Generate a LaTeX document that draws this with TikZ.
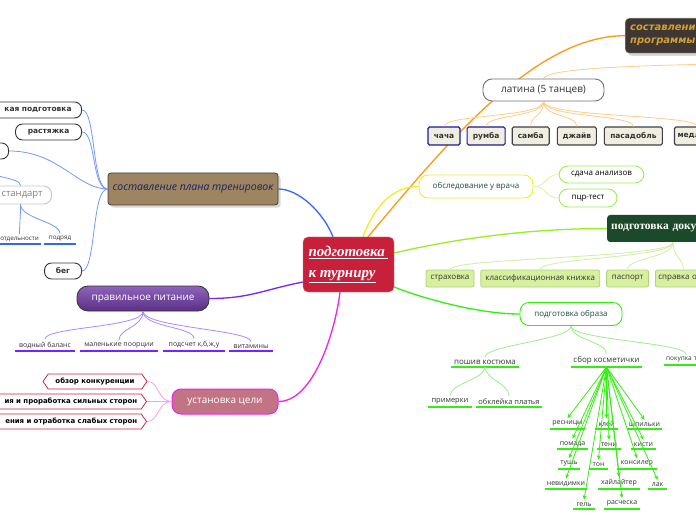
\documentclass[tikz,border=0pt]{standalone}
\usepackage{fontspec}
\setmainfont{Open Sans}
\newfontfamily\vfont{DejaVu Sans}
\newfontfamily\sfont{Liberation Serif}
\usetikzlibrary{arrows.meta,positioning,shapes.symbols,shadows,backgrounds}
\definecolor{rootred}{HTML}{C8203A}
\definecolor{planbrn}{HTML}{9D8561}
\definecolor{plantxt}{HTML}{1E1E66}
\definecolor{lblue}{HTML}{3366FF}
\definecolor{lbluet}{HTML}{7399FF}
\definecolor{lpurp}{HTML}{7722FF}
\definecolor{lpurpt}{HTML}{AA88FF}
\definecolor{lmag}{HTML}{EE22EE}
\definecolor{lmagt}{HTML}{FF99FF}
\definecolor{lorng}{HTML}{FF9A10}
\definecolor{lorngt}{HTML}{FFCC88}
\definecolor{lylw}{HTML}{EEEE22}
\definecolor{lylwt}{HTML}{EEEE99}
\definecolor{llime}{HTML}{99EE22}
\definecolor{llimet}{HTML}{CCF0A0}
\definecolor{lgrn}{HTML}{33EE11}
\definecolor{lgrnt}{HTML}{99F088}
\definecolor{lgrnb}{HTML}{99EE55}
\definecolor{pitA}{HTML}{8E63BA}
\definecolor{pitB}{HTML}{5B2F86}
\definecolor{celfill}{HTML}{C27484}
\definecolor{sigred}{HTML}{CC2244}
\definecolor{progbg}{HTML}{3E3734}
\definecolor{progtxt}{HTML}{D4A035}
\definecolor{tagfill}{HTML}{F0EEE0}
\definecolor{tagblue}{HTML}{1A1A99}
\definecolor{dokbg}{HTML}{1B4A2B}
\definecolor{dokfill}{HTML}{D7EFA0}
\definecolor{dokdraw}{HTML}{B2D478}
\definecolor{dgtxt}{HTML}{1D4D3D}
\tikzset{
  root/.style={fill=rootred, draw=rootred!60!white, rounded corners=5bp, text=white,
               font=\sfont\bfseries\itshape\fontsize{15}{21}\selectfont, align=left,
               minimum width=91bp, minimum height=55bp, inner sep=3bp},
  plan/.style={fill=planbrn, draw=black!75, line width=.8bp, rounded corners=3bp,
               text=plantxt, font=\itshape\fontsize{10.5}{12}\selectfont,
               minimum width=170bp, minimum height=32bp, drop shadow={opacity=.3}},
  bbox/.style={draw=black!80, fill=white, line width=.9bp, rounded corners=7bp,
               font=\vfont\bfseries\fontsize{7.5}{9}\selectfont, text=black!80,
               minimum height=16bp, inner xsep=10bp, inner ysep=2bp},
  gbox/.style={draw=black!22, fill=white, line width=.9bp, rounded corners=8bp, text=black!50,
               font=\fontsize{9.5}{11}\selectfont, minimum height=18bp, inner xsep=9bp},
  leaf/.style={font=\fontsize{7}{8}\selectfont, text=black!80, inner xsep=2bp, inner ysep=2.5bp,
               append after command={(\tikzlastnode.south west) edge[draw=#1, line width=1.4bp] (\tikzlastnode.south east)}},
  pill/.style={draw=#1, fill=white, line width=.9bp, rounded corners=9bp,
               font=\fontsize{8}{9.5}\selectfont, text=dgtxt, inner ysep=2bp},
  dance/.style={draw=#1, fill=tagfill, line width=1.1bp, rounded corners=1.5bp,
               font=\vfont\bfseries\fontsize{7.5}{9}\selectfont, text=black!80,
               minimum height=18bp, inner xsep=3bp},
  doc/.style={draw=dokdraw, fill=dokfill, line width=.8bp, rounded corners=2bp,
              font=\fontsize{8}{9.5}\selectfont, text=black!80, minimum height=17bp, inner xsep=3bp},
  sgn/.style={signal, signal to=west and east, signal pointer angle=110, draw=sigred, fill=white,
              line width=.8bp, font=\vfont\bfseries\fontsize{7}{8.5}\selectfont,
              minimum height=15bp, inner xsep=4bp},
  pit/.style={top color=pitA, bottom color=pitB, draw=black!80, line width=.8bp, rounded corners=11bp,
              text=white, font=\fontsize{10}{12}\selectfont, minimum width=132bp, minimum height=25bp},
  cel/.style={fill=celfill, draw=lmag, line width=1bp, rounded corners=9bp, text=white,
              font=\fontsize{10}{12}\selectfont, minimum width=106bp, minimum height=25bp},
  prog/.style={fill=progbg, draw=black!30, rounded corners=4bp, text=progtxt,
               font=\vfont\bfseries\itshape\fontsize{10}{13}\selectfont, align=left,
               minimum height=35bp, text width=100bp, inner xsep=5bp, drop shadow={opacity=.3}},
  lat/.style={draw=black!55, fill=white, line width=.9bp, rounded corners=9bp, text=black!80,
              font=\fontsize{10}{12}\selectfont, minimum width=121bp, minimum height=22bp},
  dokh/.style={fill=dokbg, rounded corners=3bp, text=white, font=\sfont\bfseries\fontsize{11.5}{13}\selectfont,
               minimum height=27bp, text width=100bp, align=left, inner xsep=4bp},
  br/.style={line width=1.3bp},
  tw/.style={line width=.8bp},
  arr/.style={-{Stealth[length=4.5bp,width=4bp]}, draw=lgrn, line width=.8bp},
}
\begin{document}
\begin{tikzpicture}[x=1bp,y=-1bp,node distance=6bp]
  \useasboundingbox (0,0) rectangle (696,520);
  \node[root] (turnir) at (348.5,264.5) {\underline{подготовка\ }\\\underline{к турниру}};

  \node[plan] (plan) at (193,189) {составление плана тренировок};
  \node[bbox, anchor=east, text width=80bp, align=right] (fiz) at (82,110) {кая подготовка};
  \node[bbox, anchor=east, minimum width=66bp] (rast) at (82,132) {растяжка};
  \node[bbox, anchor=east, minimum width=60bp] (hid) at (9,151) {};
  \node[gbox, anchor=east, text width=44bp, align=right] (std) at (52,195) {стандарт};
  \node[leaf=lblue, font=\fontsize{6.3}{7}\selectfont, anchor=south east] (otd) at (41,244) {отдельности};
  \node[leaf=lblue, font=\fontsize{6.3}{7}\selectfont, anchor=south, minimum width=31bp] (podr) at (60,244) {подряд};
  \node[bbox, anchor=east, minimum width=37bp] (beg) at (82,271) {бег};

  \node[pit] (pit) at (143,298.5) {правильное питание};
  \node[leaf=lpurp, anchor=south, minimum width=60bp] (voda) at (45,351) {водный баланс};
  \node[leaf=lpurp, anchor=south, minimum width=78bp] (malen) at (119,351) {маленькие поорции};
  \node[leaf=lpurp, anchor=south, minimum width=62bp] (podsch) at (194,351) {подсчет к,б,ж,у};
  \node[leaf=lpurp, anchor=south, minimum width=44bp] (vitam) at (251,351) {витамины};

  \node[cel] (cel) at (225,401.5) {установка цели};
  \node[sgn, minimum width=104bp] (obzor) at (95,381.5) {обзор конкуренции};
  \node[sgn, anchor=east, text width=160bp, align=right] (siln) at (147,401.5) {ия и проработка сильных сторон};
  \node[sgn, anchor=east, text width=160bp, align=right] (slab) at (147,421.5) {ения и отработка слабых сторон};

  \node[prog, anchor=north west] (prog) at (625,18) {составление\\программы};
  \coordinate (progin) at (720,64);
  \node[lat] (lat) at (543.5,90) {латина (5 танцев)};
  \node[dance=tagblue, minimum width=32bp] (chacha) at (444,136) {чача};
  \node[dance=tagblue, minimum width=38bp, right=of chacha] (rumba) {румба};
  \node[dance=black!75, minimum width=37bp, right=of rumba] (samba) {самба};
  \node[dance=black!75, minimum width=39bp, right=7bp of samba] (jive) {джайв};
  \node[dance=black!75, minimum width=58bp, right=7bp of jive] (paso) {пасадобль};
  \node[dance=black!75, text width=40bp, align=left, right=11bp of paso] (medl) {медл};

  \node[pill=lylw, minimum width=114bp, minimum height=23bp] (obsl) at (476,186.5) {обследование у врача};
  \node[pill=lgrnb, text=black, minimum width=85bp, minimum height=17bp] (sdacha) at (601.5,174.5) {сдача анализов};
  \node[pill=lgrnb, text=black, minimum width=58bp, minimum height=18bp] (pcr) at (588,198) {пцр-тест};

  \node[dokh, anchor=west] (dok) at (607,228.5) {подготовка доку};
  \node[doc, minimum width=48bp] (strah) at (450,278.5) {страховка};
  \node[doc, minimum width=119bp, right=of strah] (klass) {классификационная книжка};
  \node[doc, minimum width=42bp, right=of klass] (pasp) {паспорт};
  \node[doc, text width=50bp, align=left, right=of pasp] (sprav) {справка о};

  \node[pill=lgrn, minimum width=102bp, minimum height=23bp] (obr) at (571,314) {подготовка образа};
  \node[leaf=lgrn, font=\fontsize{8}{9}\selectfont, anchor=south, minimum width=68bp] (poshiv) at (485,367) {пошив костюма};
  \node[leaf=lgrn, font=\fontsize{8}{9}\selectfont, anchor=south, minimum width=71bp] (sbor) at (606.5,367) {сбор косметички};
  \node[leaf=lgrn, font=\fontsize{6.5}{7.5}\selectfont, anchor=south west, text width=40bp, align=left] (pokup) at (664,365) {покупка т};
  \node[leaf=lgrn, font=\fontsize{7.5}{8.5}\selectfont, anchor=south, minimum width=44bp] (primer) at (450,407) {примерки};
  \node[leaf=lgrn, font=\fontsize{7.5}{8.5}\selectfont, anchor=south, minimum width=66bp] (obkl) at (509,407) {обклейка платья};

  \node[leaf=lgrn, anchor=south, minimum width=35bp] (resn) at (567.5,429) {ресницы};
  \node[leaf=lgrn, anchor=south, minimum width=23bp] (klej) at (606.5,429) {клей};
  \node[leaf=lgrn, anchor=south, minimum width=35bp] (shpil) at (644.5,429) {шпильки};
  \node[leaf=lgrn, anchor=south, minimum width=31bp] (pomada) at (572.5,449) {помада};
  \node[leaf=lgrn, anchor=south, minimum width=24bp] (teni) at (609,449) {тени};
  \node[leaf=lgrn, anchor=south, minimum width=25bp] (kisti) at (643.5,449) {кисти};
  \node[leaf=lgrn, anchor=south, minimum width=20bp] (tush) at (569,469) {тушь};
  \node[leaf=lgrn, anchor=south, minimum width=19bp] (ton) at (598.5,469) {тон};
  \node[leaf=lgrn, anchor=south, minimum width=40bp] (konsil) at (637,469) {консилер};
  \node[leaf=lgrn, anchor=south, minimum width=40bp] (nevid) at (566,489) {невидимки};
  \node[leaf=lgrn, anchor=south, minimum width=42bp] (hail) at (619,489) {хайлайтер};
  \node[leaf=lgrn, anchor=south, minimum width=19bp] (lak) at (657.5,489) {лак};
  \node[leaf=lgrn, anchor=south, minimum width=22bp] (gel) at (584,509) {гель};
  \node[leaf=lgrn, anchor=south, minimum width=36bp] (rasch) at (622,509) {расческа};

  \begin{scope}[on background layer]
    \fill[white] (0,0) rectangle (696,520);
    \draw[br, lblue] ([xshift=-15.5bp]turnir.north) .. controls +(-10,-25) and +(20,0) .. (plan.east);
    \draw[br, lpurp] ([yshift=-17.5bp]turnir.west) .. controls +(-40,8) and +(40,0) .. (pit.east);
    \draw[br, lmag] ([xshift=-8.5bp]turnir.south) .. controls +(-5,40) and +(35,0) .. (cel.east);
    \draw[br, lorng] ([xshift=19.5bp]turnir.north) .. controls +(80,-95) and +(-90,0) .. (prog.west);
    \draw[br, lylw] ([xshift=14.5bp]turnir.north) .. controls +(12,-32) and +(-25,0) .. (obsl.west);
    \draw[br, llime] ([yshift=11.5bp]turnir.east) .. controls +(60,-14) and +(-80,0) .. (dok.west);
    \draw[br, lgrn] ([yshift=-22.5bp]turnir.east) .. controls +(30,12) and +(-40,0) .. (obr.west);
    \draw[tw, lorngt] (lat.north) .. controls +(5,-9) and +(-110,2) .. (progin);
  \end{scope}

  \draw[tw, lbluet] (plan.west) .. controls +(-16,0) and +(14,0) .. (fiz.east);
  \draw[tw, lbluet] (plan.west) .. controls +(-16,0) and +(14,0) .. (rast.east);
  \draw[tw, lbluet] (plan.west) .. controls +(-30,0) and +(50,0) .. (hid.east);
  \draw[tw, lbluet] (plan.west) .. controls +(-16,0) and +(14,0) .. (beg.east);
  \draw[tw, lbluet] (hid.south) .. controls +(0,20) and +(0,-10) .. (std.north);
  \draw[tw, lbluet] (std.south) .. controls +(0,14) and +(0,-12) .. (otd.north);
  \draw[tw, lbluet] (std.south) .. controls +(0,14) and +(0,-12) .. (podr.north);

  \draw[tw, lpurpt] (pit.south) .. controls +(0,16) and +(0,-12) .. (voda.north);
  \draw[tw, lpurpt] (pit.south) .. controls +(0,16) and +(0,-12) .. (malen.north);
  \draw[tw, lpurpt] (pit.south) .. controls +(0,16) and +(0,-12) .. (podsch.north);
  \draw[tw, lpurpt] (pit.south) .. controls +(0,16) and +(0,-12) .. (vitam.north);

  \draw[tw, lmagt] (cel.west) .. controls +(-14,0) and +(12,0) .. (obzor.east);
  \draw[tw, lmagt] (cel.west) .. controls +(-14,0) and +(12,0) .. (siln.east);
  \draw[tw, lmagt] (cel.west) .. controls +(-14,0) and +(12,0) .. (slab.east);

  \draw[tw, lorngt] (lat.south) .. controls +(0,16) and +(0,-12) .. (chacha.north);
  \draw[tw, lorngt] (lat.south) .. controls +(0,16) and +(0,-12) .. (rumba.north);
  \draw[tw, lorngt] (lat.south) .. controls +(0,16) and +(0,-12) .. (samba.north);
  \draw[tw, lorngt] (lat.south) .. controls +(0,16) and +(0,-12) .. (jive.north);
  \draw[tw, lorngt] (lat.south) .. controls +(0,16) and +(0,-12) .. (paso.north);
  \draw[tw, lorngt] (lat.south) .. controls +(0,16) and +(0,-12) .. (medl.north);

  \draw[tw, lylwt] (obsl.east) .. controls +(14,0) and +(-14,0) .. (sdacha.west);
  \draw[tw, lylwt] (obsl.east) .. controls +(14,0) and +(-14,0) .. (pcr.west);

  \draw[tw, llimet] ([xshift=66bp]dok.south west) .. controls +(0,16) and +(0,-12) .. (strah.north);
  \draw[tw, llimet] ([xshift=66bp]dok.south west) .. controls +(0,16) and +(0,-12) .. (klass.north);
  \draw[tw, llimet] ([xshift=66bp]dok.south west) .. controls +(0,16) and +(0,-12) .. (pasp.north);
  \draw[tw, llimet] ([xshift=66bp]dok.south west) .. controls +(0,16) and +(0,-12) .. (sprav.north);

  \draw[tw, lgrnt] (obr.south) .. controls +(0,14) and +(0,-12) .. (poshiv.north);
  \draw[tw, lgrnt] (obr.south) .. controls +(0,14) and +(0,-12) .. (sbor.north);
  \draw[tw, lgrnt] (obr.south) .. controls +(0,14) and +(0,-12) .. (pokup.north);
  \draw[tw, lgrnt] (poshiv.south) .. controls +(0,12) and +(0,-12) .. (primer.north);
  \draw[tw, lgrnt] (poshiv.south) .. controls +(0,12) and +(0,-12) .. (obkl.north);

  \draw[arr] (sbor.south) -- (resn.north); \draw[arr] (sbor.south) -- (klej.north);
  \draw[arr] (sbor.south) -- (shpil.north); \draw[arr] (sbor.south) -- (pomada.north);
  \draw[arr] (sbor.south) -- (teni.north); \draw[arr] (sbor.south) -- (kisti.north);
  \draw[arr] (sbor.south) -- (tush.north); \draw[arr] (sbor.south) -- (ton.north);
  \draw[arr] (sbor.south) -- (konsil.north); \draw[arr] (sbor.south) -- (nevid.north);
  \draw[arr] (sbor.south) -- (hail.north); \draw[arr] (sbor.south) -- (lak.north);
  \draw[arr] (sbor.south) -- (gel.north); \draw[arr] (sbor.south) -- (rasch.north);
\end{tikzpicture}
\end{document}
